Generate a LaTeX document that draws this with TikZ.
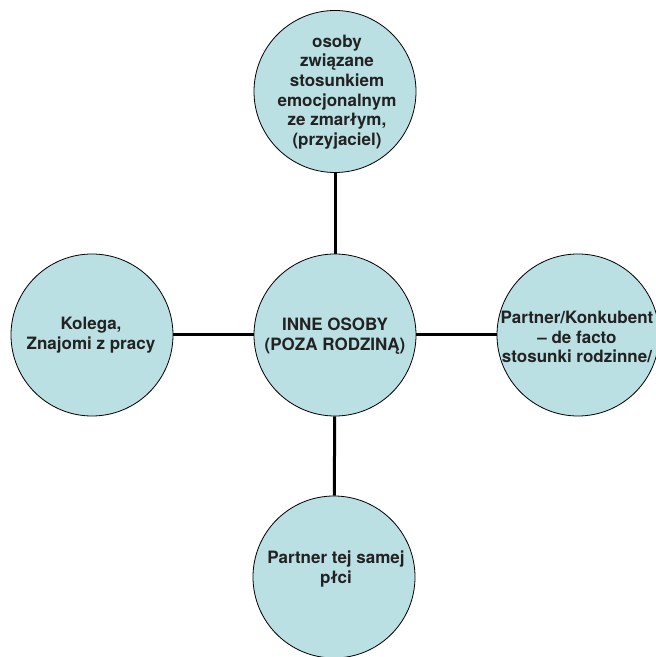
\documentclass[tikz,border=0pt]{standalone}
\usepackage{fontspec}
\setmainfont{TeX Gyre Heros}
\usetikzlibrary{backgrounds}
\definecolor{circfill}{RGB}{187,224,228}
\definecolor{txtcol}{RGB}{34,34,34}
\begin{document}
\begin{tikzpicture}[x=1pt,y=1pt,
  bubble/.style={circle,draw=black,line width=0.8pt,fill=circfill,minimum size=162pt,inner sep=0pt},
  btext/.style={align=center,text=txtcol,font=\fontsize{17}{19.6}\selectfont\bfseries,inner sep=0pt},
  link/.style={line width=3pt,black}]
\useasboundingbox (0,0) rectangle (656,657);
\clip (0,0) rectangle (656,657);
\node[bubble] (ctr) at (335,322) {};
\node[bubble] (top) at (335,565.5) {};
\node[bubble] (lft) at (92,322) {};
\node[bubble] (rgt) at (578,322) {};
\node[bubble] (bot) at (334,80) {};
\begin{scope}[on background layer]
\fill[white] (0,0) rectangle (656,657);
\draw[link] (top) -- (ctr);
\draw[link] (ctr) -- (bot);
\draw[link] (lft.east) -- (ctr.west);
\draw[link] (ctr.east) -- (rgt.west);
\end{scope}
\node[btext] (tctr) at (335,321) {INNE OSOBY\\(POZA RODZINĄ)};
\node[btext] (ttop) at (337,565) {osoby\\związane\\stosunkiem\\emocjonalnym\\ze zmarłym,\\(przyjaciel)};
\node[btext] (tlft) at (91,322) {Kolega,\\Znajomi z pracy};
\node[btext] (trgt) at (577,320) {Partner/Konkubent\\– de facto\\stosunki rodzinne/};
\node[btext] (tbot) at (336,88) {Partner tej samej\\płci};
\end{tikzpicture}
\end{document}
